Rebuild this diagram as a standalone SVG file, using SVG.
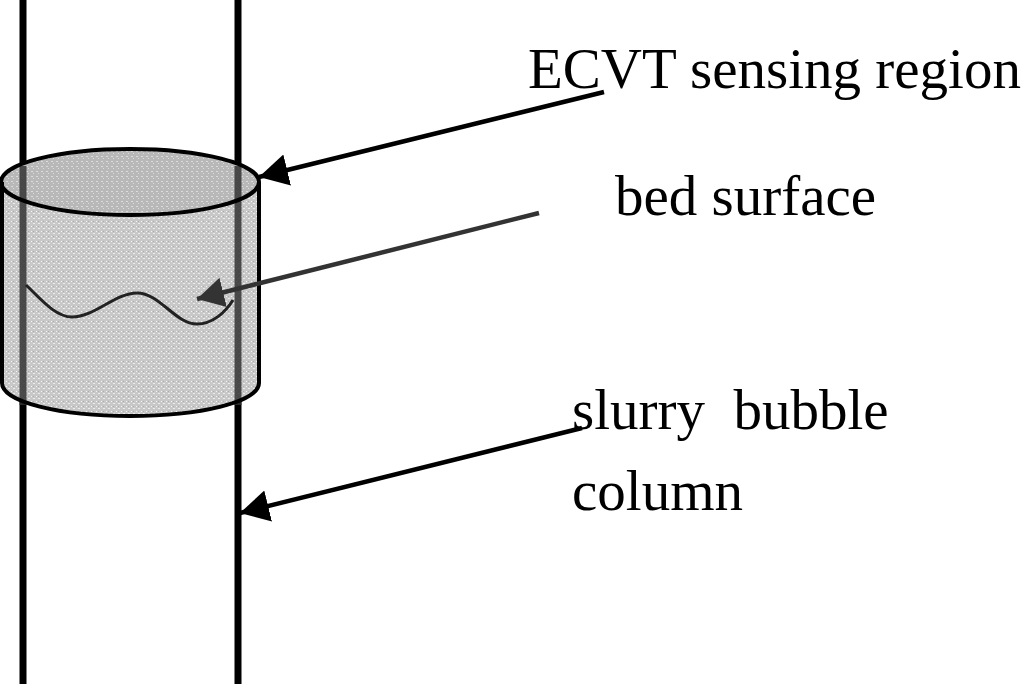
<svg xmlns="http://www.w3.org/2000/svg" width="1024" height="686" viewBox="0 0 1024 686">
<style>
text{font-family:"Liberation Serif",serif;font-size:57px;fill:#000}
.pole{stroke:#000;stroke-width:7;fill:none}
.ghost{stroke:#333;stroke-width:7;fill:none;opacity:.85}
.edge{stroke:#000;stroke-width:4.5;fill:none}
.out{stroke:#000;stroke-width:4;fill:none}
</style>
<defs>
<pattern id="dots" width="5" height="5" patternUnits="userSpaceOnUse"><rect width="5" height="5" fill="#c8c8c8"/><rect x="1" y="1" width="1" height="1" fill="#f6f6f6"/><rect x="3" y="3" width="2" height="1" fill="#ececec"/><rect x="3" y="1" width="1" height="1" fill="#acacac"/></pattern>
<pattern id="dotsTop" width="5" height="5" patternUnits="userSpaceOnUse"><rect width="5" height="5" fill="#b8b8b8"/><rect x="1" y="1" width="2" height="1" fill="#dcdcdc"/><rect x="3" y="3" width="1" height="1" fill="#dcdcdc"/></pattern>
<marker id="arr" markerUnits="userSpaceOnUse" markerWidth="34" markerHeight="34" refX="29" refY="16" orient="auto"><path d="M0 0L29 16L0 32Z" fill="#000"/></marker>
<marker id="arrGrey" markerUnits="userSpaceOnUse" markerWidth="34" markerHeight="32" refX="27" refY="15" orient="auto"><path d="M0 0L27 15L0 30Z" fill="#333"/></marker>
</defs>
<rect width="1024" height="686" fill="#fff"/>
<g id="column"><path class="pole" d="M23 0V684M238 0V684"/></g>
<g id="sensing-region">
<path d="M2 182V383C2 402 60 416 130 416C200 416 259 402 259 383V182Z" fill="url(#dots)"/>
<ellipse cx="130" cy="182" rx="129" ry="33" fill="url(#dotsTop)"/>
<path class="ghost" d="M23 166V405M238 166V405"/>
<path class="out" d="M2 182V383C2 402 60 416 130 416C200 416 259 402 259 383V182"/>
<ellipse class="out" cx="130" cy="182" rx="129" ry="33"/>
</g>
<g id="bed-surface"><path fill="none" stroke="#222" stroke-width="3" d="M26 285C40 298 55 317 72 317C95 317 115 293 137 293C160 293 175 324 197 324C212 324 225 313 233 300"/></g>
<g id="connectors">
<line class="edge" x1="604" y1="92" x2="259" y2="177" marker-end="url(#arr)"/>
<line style="stroke:#333" class="edge" x1="539" y1="213" x2="197" y2="299" marker-end="url(#arrGrey)"/>
<line class="edge" x1="582" y1="428" x2="240" y2="513" marker-end="url(#arr)"/>
</g>
<g id="label-ecvt"><text x="528" y="88">ECVT sensing region</text></g>
<g id="label-bed"><text x="615" y="215">bed surface</text></g>
<g id="label-slurry"><text x="572" y="429" xml:space="preserve">slurry  bubble</text><text x="572" y="510">column</text></g>
</svg>
